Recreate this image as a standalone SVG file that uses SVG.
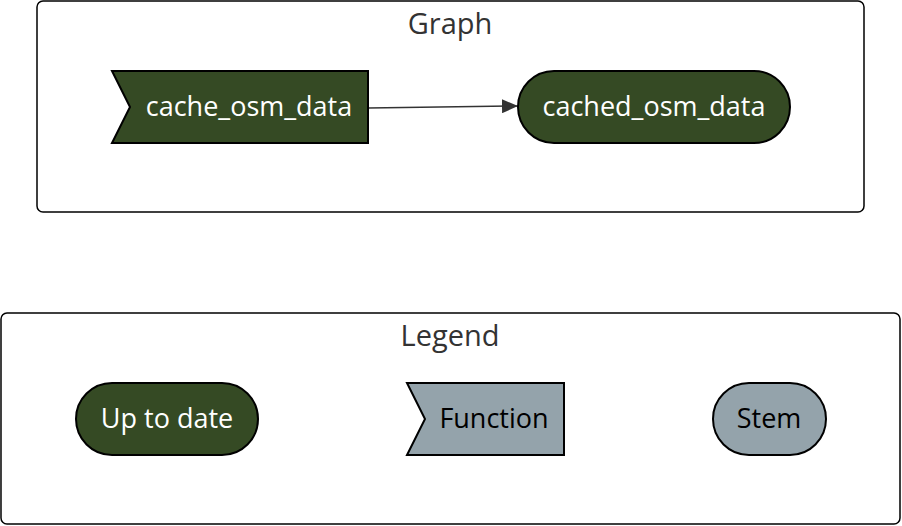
<svg xmlns="http://www.w3.org/2000/svg" width="902" height="526" viewBox="0 0 902 526">
<defs>
<style>
.cluster{fill:#ffffff;stroke:#000000;stroke-width:1.5}
.title{font-family:"Open Sans","Noto Sans",sans-serif;font-size:29px;fill:#333333;text-anchor:middle}
.uptodate{fill:#354a24;stroke:#000000;stroke-width:2}
.grey{fill:#94a3ab;stroke:#000000;stroke-width:2}
.lw{font-family:"Open Sans","Noto Sans",sans-serif;font-size:27px;fill:#ffffff;text-anchor:middle}
.lb{font-family:"Open Sans","Noto Sans",sans-serif;font-size:27px;fill:#000000;text-anchor:middle}
.edge{fill:none;stroke:#333333;stroke-width:1.5}
</style>
<marker id="arrow" viewBox="0 0 10 10" refX="10" refY="5" markerWidth="16" markerHeight="14" markerUnits="userSpaceOnUse" orient="auto" preserveAspectRatio="none">
<path d="M0,0 L10,5 L0,10 z" fill="#333333"/>
</marker>
</defs>
<g id="graph-cluster">
<rect class="cluster" x="37" y="1" width="827" height="211" rx="6"/>
<text class="title" x="450" y="34">Graph</text>
</g>
<g id="legend-cluster">
<rect class="cluster" x="1" y="313" width="899" height="211" rx="6"/>
<text class="title" x="450" y="346">Legend</text>
</g>
<g id="connectors">
<path class="edge" d="M368,108 L518,106" marker-end="url(#arrow)"/>
</g>
<g id="node-cache_osm_data">
<polygon class="uptodate" points="112,71 368,71 368,143 112,143 130,107"/>
<text class="lw" x="249" y="116">cache_osm_data</text>
</g>
<g id="node-cached_osm_data">
<rect class="uptodate" x="518" y="71" width="272" height="72" rx="36"/>
<text class="lw" x="654" y="116">cached_osm_data</text>
</g>
<g id="legend-uptodate">
<rect class="uptodate" x="76" y="383" width="182" height="72" rx="36"/>
<text class="lw" x="167" y="428">Up to date</text>
</g>
<g id="legend-function">
<polygon class="grey" points="407,383 564,383 564,455 407,455 425,419"/>
<text class="lb" x="494" y="428">Function</text>
</g>
<g id="legend-stem">
<rect class="grey" x="713" y="383" width="113" height="72" rx="36"/>
<text class="lb" x="769" y="428">Stem</text>
</g>
</svg>
